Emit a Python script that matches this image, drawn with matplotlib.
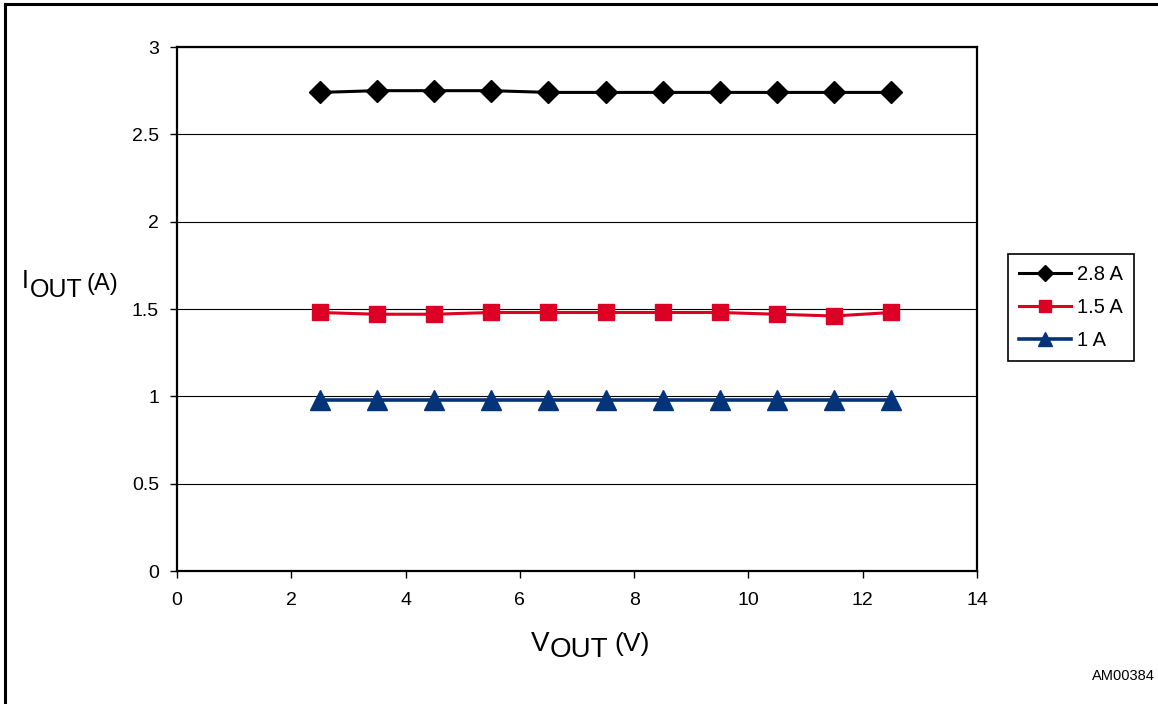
import matplotlib.pyplot as plt
from matplotlib.lines import Line2D

plt.rcParams['font.family'] = ['Liberation Sans', 'DejaVu Sans']

# data
v_out = [2.5, 3.5, 4.5, 5.5, 6.5, 7.5, 8.5, 9.5, 10.5, 11.5, 12.5]
i_28 = [2.74, 2.75, 2.75, 2.75, 2.74, 2.74, 2.74, 2.74, 2.74, 2.74, 2.74]
i_15 = [1.48, 1.47, 1.47, 1.48, 1.48, 1.48, 1.48, 1.48, 1.47, 1.46, 1.48]
i_10 = [0.98, 0.98, 0.98, 0.98, 0.98, 0.98, 0.98, 0.98, 0.98, 0.98, 0.98]
series_labels = ['2.8 A', '1.5 A', '1 A']
x_ticks = [0, 2, 4, 6, 8, 10, 12, 14]
y_ticks = [0, 0.5, 1, 1.5, 2, 2.5, 3]

W, H = 1158, 704
fig = plt.figure(figsize=(W / 100, H / 100), dpi=100)
ax = fig.add_axes([177 / W, 1 - 571 / H, 800 / W, 524 / H])

ax.plot(v_out, i_28, color='black', lw=2.2, marker='D', ms=11, label=series_labels[0])
ax.plot(v_out, i_15, color='#dc0025', lw=2.2, marker='s', ms=12, label=series_labels[1])
ax.plot(v_out, i_10, color='#03347a', lw=2.6, marker='^', ms=14, label=series_labels[2])

ax.set_xlim(0, 14)
ax.set_ylim(0, 3)
ax.set_xticks(x_ticks)
ax.set_yticks(y_ticks)
ax.set_yticklabels(['0', '0.5', '1', '1.5', '2', '2.5', '3'])
ax.tick_params(labelsize=14, length=5, width=1, direction='out', pad=8)
ax.tick_params(axis='x', pad=10)
ax.grid(axis='y', color='black', lw=0.8)
ax.set_axisbelow(True)
for s in ax.spines.values():
    s.set_linewidth(1.6)

leg = ax.legend(loc='upper left', bbox_to_anchor=(1008 / W, 1 - 254 / H),
                bbox_transform=fig.transFigure, borderaxespad=0,
                fancybox=False, edgecolor='black', framealpha=1,
                fontsize=14.5, handlelength=2.6, labelspacing=0.7,
                borderpad=0.55, handletextpad=0.3, markerscale=0.75)
leg.get_frame().set_linewidth(1.2)

# axis labels in datasheet style (pieces at offsets)
def px(x, y):
    return x / W, 1 - y / H

fig.text(*px(531, 651), 'V', fontsize=20, va='baseline')
fig.text(*px(550, 657), 'OUT', fontsize=20, va='baseline')
fig.text(*px(614, 651), '(V)', fontsize=19, va='baseline')

fig.text(*px(22, 288), 'I', fontsize=18, va='baseline')
fig.text(*px(30, 297), 'OUT', fontsize=18, va='baseline')
fig.text(*px(87, 290), '(A)', fontsize=17, va='baseline')

fig.text(*px(1155, 680), 'AM00384', fontsize=10.5, ha='right', va='baseline')

# page frame: left and top edges only
fig.add_artist(Line2D([5 / W, 5 / W], [0, 1 - 4 / H], color='black', lw=2.2,
                      transform=fig.transFigure))
fig.add_artist(Line2D([5 / W, 1], [1 - 4 / H, 1 - 4 / H], color='black', lw=2.2,
                      transform=fig.transFigure))

fig.savefig('out.png', dpi=100)
